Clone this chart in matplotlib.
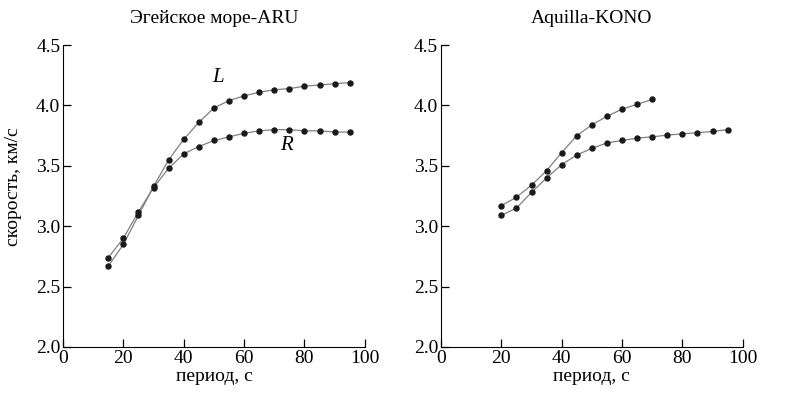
import matplotlib.pyplot as plt

plt.rcParams["font.family"] = ["Liberation Serif", "DejaVu Serif"]

# left panel: Эгейское море-ARU
aru_period = [15, 20, 25, 30, 35, 40, 45, 50, 55, 60, 65, 70, 75, 80, 85, 90, 95]
aru_L = [2.67, 2.85, 3.09, 3.33, 3.55, 3.72, 3.86, 3.98, 4.04, 4.08, 4.11, 4.13,
         4.14, 4.16, 4.17, 4.18, 4.19]
aru_R = [2.74, 2.90, 3.12, 3.32, 3.48, 3.60, 3.66, 3.71, 3.74, 3.77, 3.79, 3.80,
         3.80, 3.79, 3.79, 3.78, 3.78]

# right panel: Aquilla-KONO
kono_period_L = [20, 25, 30, 35, 40, 45, 50, 55, 60, 65, 70]
kono_L = [3.17, 3.24, 3.34, 3.46, 3.61, 3.75, 3.84, 3.91, 3.97, 4.01, 4.05]
kono_period_R = [20, 25, 30, 35, 40, 45, 50, 55, 60, 65, 70, 75, 80, 85, 90, 95]
kono_R = [3.09, 3.15, 3.28, 3.40, 3.51, 3.59, 3.645, 3.69, 3.71, 3.73, 3.74,
          3.755, 3.765, 3.775, 3.785, 3.80]

fig = plt.figure(figsize=(7.88, 3.96), dpi=100)
ax1 = fig.add_axes([0.080, 0.124, 0.383, 0.762])
ax2 = fig.add_axes([0.5596, 0.124, 0.383, 0.762])


def draw_series(ax, x, y):
    ax.plot(x, y, color="#808080", lw=0.9, zorder=1)
    ax.scatter(x, y, s=13, color="#1a1a1a", zorder=2)


draw_series(ax1, aru_period, aru_L)
draw_series(ax1, aru_period, aru_R)
draw_series(ax2, kono_period_L, kono_L)
draw_series(ax2, kono_period_R, kono_R)

ax1.text(51.5, 4.23, "L", fontsize=15, style="italic", ha="center", va="center")
ax1.text(74, 3.67, "R", fontsize=15, style="italic", ha="center", va="center")

for ax, title in [(ax1, "Эгейское море-ARU"), (ax2, "Aquilla-KONO")]:
    ax.set_xlim(0, 100)
    ax.set_ylim(2.0, 4.5)
    ax.set_xticks([0, 20, 40, 60, 80, 100])
    ax.set_yticks([2.0, 2.5, 3.0, 3.5, 4.0, 4.5])
    ax.set_yticklabels(["2.0", "2.5", "3.0", "3.5", "4.0", "4.5"])
    ax.spines["top"].set_visible(False)
    ax.spines["right"].set_visible(False)
    ax.tick_params(direction="in", length=6, width=0.9, labelsize=14, pad=2)
    ax.set_title(title, fontsize=14, pad=16)
    ax.set_xlabel("период, с", fontsize=14, labelpad=1)

ax1.set_ylabel("скорость, км/с", fontsize=14)
ax1.yaxis.set_label_coords(-0.135, 0.53)

plt.savefig("out.png", dpi=100, facecolor="white")
plt.close()
